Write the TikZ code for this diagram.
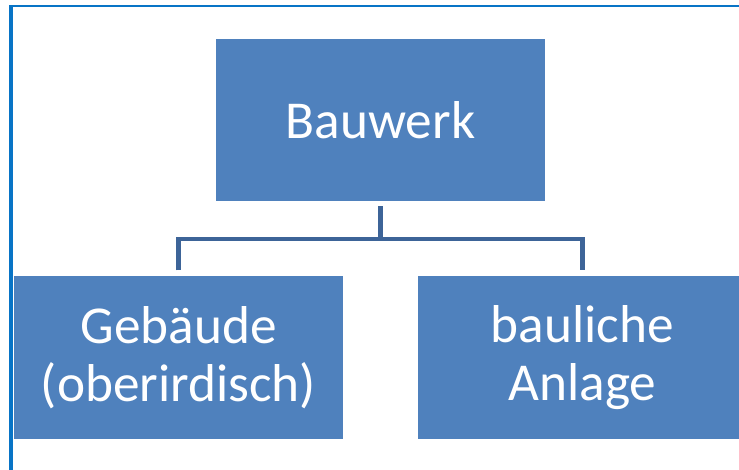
\documentclass[tikz,border=0pt]{standalone}
\usepackage{fontspec}
\setmainfont{Carlito}
\usetikzlibrary{calc}
\definecolor{boxblue}{HTML}{4F81BD}
\definecolor{linkblue}{HTML}{3D6498}
\definecolor{frameblue}{HTML}{0874C6}
\tikzset{
  orgbox/.style={fill=boxblue, draw=none, minimum width=329, minimum height=162,
    inner sep=0pt, text=white, align=center,
    font=\fontsize{53.3}{58}\selectfont},
  link/.style={draw=linkblue, line width=4.2pt, line join=miter},
}
\begin{document}
\begin{tikzpicture}[x=1pt, y=-1pt]
  \useasboundingbox (0,0) rectangle (739,470);
  \clip (0,0) rectangle (739,470);
  % frame on the left and top edges
  \fill[frameblue] (9,5) rectangle (12.5,470);
  \fill[frameblue] (9,5) rectangle (739,7);
  % boxes
  \node[orgbox] (top)   at (380.5,120)   {Bauwerk};
  \node[orgbox] (left)  at (178.5,357.5) {Gebäude\\(oberirdisch)};
  \node[orgbox] (right) at (582.5,357.5) {bauliche\\Anlage};
  % connectors
  \coordinate (hub) at ($(top.south)+(0,38)$);
  \draw[link] ($(top.south)+(0,5)$) -- (hub);
  \draw[link] ($(left.north)+(0,-6)$) |- (hub) -| ($(right.north)+(0,-6)$);
\end{tikzpicture}
\end{document}
